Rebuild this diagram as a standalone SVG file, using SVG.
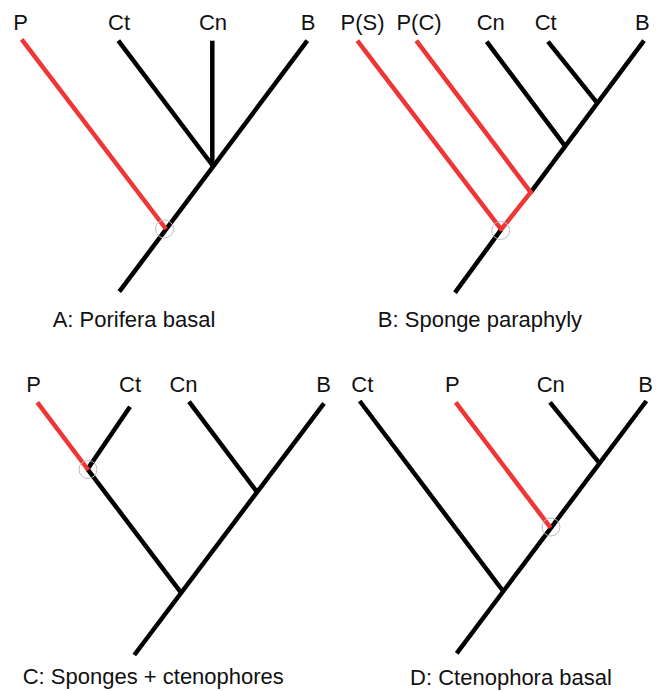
<svg xmlns="http://www.w3.org/2000/svg" width="659" height="691" viewBox="0 0 659 691">
  <style>
    .br { stroke: #000; stroke-width: 4.5; fill: none; stroke-linecap: butt; }
    .sp { stroke: #f03535; stroke-width: 4.5; fill: none; stroke-linecap: butt; }
    .mk { stroke: #b8bdc8; stroke-width: 1; fill: none; }
    text { font-family: "Liberation Sans", Arial, sans-serif; fill: #111; text-anchor: middle; }
    .tip { font-size: 22px; }
    .cap { font-size: 22px; }
  </style>
  <rect width="659" height="691" fill="#fff"/>

  <!-- Tree A: Porifera basal -->
  <g id="treeA">
    <g id="connectors-A">
      <line class="br" x1="307.3" y1="40.7" x2="119.3" y2="291.7"/>
      <line class="br" x1="118.3" y1="40.7" x2="213" y2="166"/>
      <line class="br" x1="212.3" y1="40.7" x2="212.3" y2="166"/>
      <line class="sp" x1="21.7" y1="39.3" x2="166" y2="229"/>
      <circle class="mk" cx="164.5" cy="229" r="9"/>
    </g>
    <g id="A-P"><text class="tip" x="20.5" y="29.5">P</text></g>
    <g id="A-Ct"><text class="tip" x="119" y="29.5">Ct</text></g>
    <g id="A-Cn"><text class="tip" x="213" y="29.5">Cn</text></g>
    <g id="A-B"><text class="tip" x="308" y="29.5">B</text></g>
    <g id="A-caption"><text class="cap" x="134" y="327">A: Porifera basal</text></g>
  </g>

  <!-- Tree B: Sponge paraphyly -->
  <g id="treeB">
    <g id="connectors-B">
      <line class="br" x1="644" y1="40.7" x2="530.7" y2="192.3"/>
      <line class="br" x1="501.3" y1="229.3" x2="455" y2="292.7"/>
      <line class="br" x1="486.7" y1="41.7" x2="565.5" y2="146.7"/>
      <line class="br" x1="548" y1="41.7" x2="597.5" y2="103.3"/>
      <line class="sp" x1="357.3" y1="40.7" x2="502" y2="230.3"/>
      <line class="sp" x1="416.3" y1="40.7" x2="531.5" y2="193.3"/>
      <line class="sp" x1="500.6" y1="230.2" x2="532" y2="190.6"/>
      <circle class="mk" cx="500.7" cy="230.5" r="9"/>
    </g>
    <g id="B-PS"><text class="tip" x="362.5" y="29.5">P(S)</text></g>
    <g id="B-PC"><text class="tip" x="419" y="29.5">P(C)</text></g>
    <g id="B-Cn"><text class="tip" x="490.7" y="29.5">Cn</text></g>
    <g id="B-Ct"><text class="tip" x="545.7" y="29.5">Ct</text></g>
    <g id="B-B"><text class="tip" x="642.3" y="29.5">B</text></g>
    <g id="B-caption"><text class="cap" x="480" y="327">B: Sponge paraphyly</text></g>
  </g>

  <!-- Tree C: Sponges + ctenophores -->
  <g id="treeC">
    <g id="connectors-C">
      <line class="br" x1="324" y1="403.3" x2="134.3" y2="655"/>
      <line class="br" x1="189" y1="401.7" x2="257.5" y2="492.7"/>
      <line class="br" x1="87.7" y1="469.3" x2="181" y2="592.7"/>
      <line class="br" x1="130" y1="406.7" x2="86.6" y2="470.5"/>
      <line class="sp" x1="37.3" y1="402.3" x2="88.3" y2="470"/>
      <circle class="mk" cx="88" cy="469.5" r="9"/>
    </g>
    <g id="C-P"><text class="tip" x="33.5" y="391.7">P</text></g>
    <g id="C-Ct"><text class="tip" x="130" y="391.7">Ct</text></g>
    <g id="C-Cn"><text class="tip" x="183.5" y="391.7">Cn</text></g>
    <g id="C-B"><text class="tip" x="323.5" y="391.7">B</text></g>
    <g id="C-caption"><text class="cap" x="153.3" y="683.5">C: Sponges + ctenophores</text></g>
  </g>

  <!-- Tree D: Ctenophora basal -->
  <g id="treeD">
    <g id="connectors-D">
      <line class="br" x1="646.3" y1="401" x2="456.7" y2="653.3"/>
      <line class="br" x1="359.7" y1="401" x2="503" y2="591"/>
      <line class="br" x1="550" y1="402.3" x2="599" y2="462.7"/>
      <line class="sp" x1="455.7" y1="402.3" x2="550.5" y2="527.7"/>
      <circle class="mk" cx="551" cy="527" r="9"/>
    </g>
    <g id="D-Ct"><text class="tip" x="362.3" y="391.7">Ct</text></g>
    <g id="D-P"><text class="tip" x="452.3" y="391.7">P</text></g>
    <g id="D-Cn"><text class="tip" x="550.7" y="391.7">Cn</text></g>
    <g id="D-B"><text class="tip" x="645.7" y="391.7">B</text></g>
    <g id="D-caption"><text class="cap" x="511" y="685">D: Ctenophora basal</text></g>
  </g>
</svg>
